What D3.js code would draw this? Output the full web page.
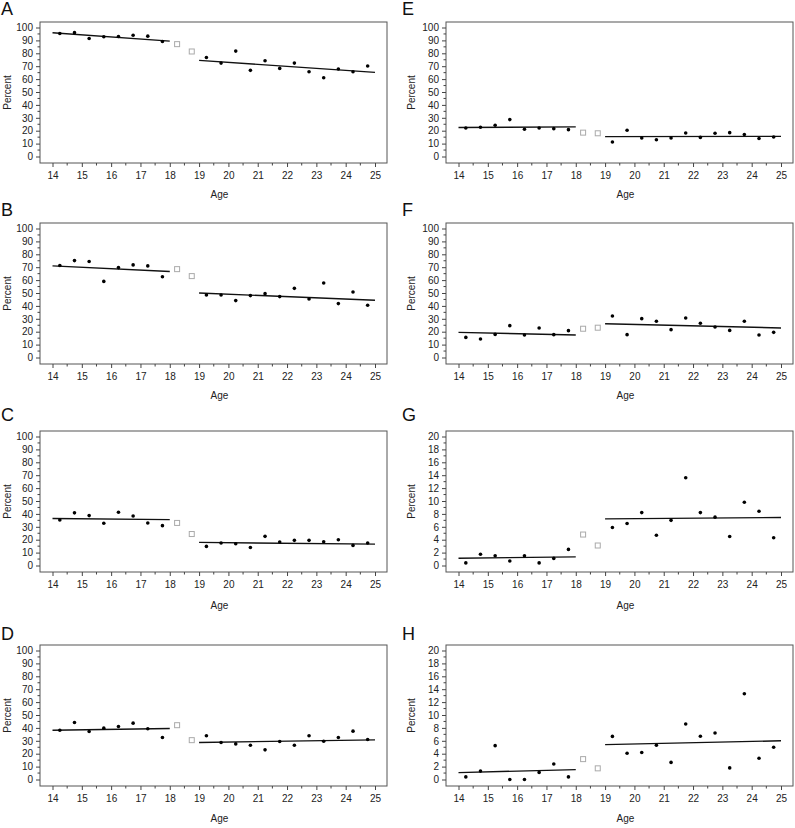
<!DOCTYPE html>
<html>
<head>
<meta charset="utf-8">
<script src="https://cdn.jsdelivr.net/npm/d3@7/dist/d3.min.js"></script>
<style>
  body { margin: 0; background: #fff; }
  svg { display: block; font-family: "Liberation Sans", Arial, sans-serif; }
</style>
</head>
<body>
<svg id="chart" width="795" height="828"></svg>
<script>
// ---------- data ----------
const ages = [14.25, 14.75, 15.25, 15.75, 16.25, 16.75, 17.25, 17.75,
              18.25, 18.75,
              19.25, 19.75, 20.25, 20.75, 21.25, 21.75, 22.25, 22.75, 23.25, 23.75, 24.25, 24.75];
const gapAges = [18.25, 18.75];
const xTicks = [14, 15, 16, 17, 18, 19, 20, 21, 22, 23, 24, 25];
const yTicks100 = [0, 10, 20, 30, 40, 50, 60, 70, 80, 90, 100];
const yTicks20 = [0, 2, 4, 6, 8, 10, 12, 14, 16, 18, 20];
const fitXEarly = [14, 18];
const fitXLate = [19, 25];

const panelNames = ["A", "B", "C", "D", "E", "F", "G", "H"];
const yMaxes = [100, 100, 100, 100, 100, 100, 20, 20];

const valuesA = [95.4, 96, 91.5, 92.8, 93, 94, 93.3, 89.2, 87.1, 81.4,
                 76.8, 72.4, 81.7, 66.8, 74.2, 68.3, 72.4, 65.7, 61.1, 67.8, 65.7, 70.1];
const valuesB = [71.3, 75.1, 74.4, 59, 69.7, 71.8, 71, 62.6, 68.5, 63.1,
                 48.5, 48.5, 44.1, 48, 49.5, 47.2, 53.6, 45.4, 57.7, 41.8, 50.8, 40.5];
const valuesC = [35.3, 40.8, 38.7, 32.7, 41.3, 38.4, 33, 30.9, 33, 24.4,
                 14.8, 17.4, 16.9, 14, 22.6, 18.2, 19.5, 19.5, 18.4, 20, 15.6, 17.4];
const valuesD = [38.2, 44.2, 37.2, 39.8, 41.1, 43.7, 39.3, 32.6, 42.1, 30.5,
                 33.9, 28.7, 27.6, 26.6, 23, 29.5, 26.6, 33.9, 29.7, 32.6, 37.5, 31];
const valuesE = [22.1, 22.7, 24.2, 28.6, 21.1, 22.1, 21.6, 20.8, 18.5, 18,
                 11.2, 20.3, 14.3, 13, 14.3, 18.2, 14.8, 18, 18.5, 17, 14, 15.1];
const valuesF = [15.6, 14.3, 17.9, 24.7, 17.4, 22.9, 17.7, 20.8, 22.3, 23.1,
                 32.2, 17.7, 30.1, 28.1, 21.6, 30.6, 26.5, 23.6, 21, 28.1, 17.4, 19.5];
const valuesG = [0.4, 1.74, 1.5, 0.7, 1.5, 0.4, 1.1, 2.5, 4.8, 3.1,
                 5.9, 6.5, 8.2, 4.7, 7.0, 13.6, 8.2, 7.5, 4.5, 9.8, 8.4, 4.3];
const valuesH = [0.4, 1.3, 5.25, 0, 0, 1.1, 2.4, 0.4, 3.16, 1.73,
                 6.68, 4.08, 4.18, 5.3, 2.65, 8.6, 6.7, 7.2, 1.8, 13.3, 3.3, 5.0];

const fitEarly = [[95.9, 89.4], [71, 66.7], [36.4, 35.6], [38.2, 39.5],
                  [22.5, 23], [19.5, 17.4], [1.13, 1.33], [1.07, 1.53]];
const fitLate = [[74.5, 65.2], [50, 44.4], [17.9, 16.6], [28.7, 30.7],
                 [15.4, 15.6], [26.2, 22.9], [7.23, 7.44], [5.4, 6.0]];

const allValues = [valuesA, valuesB, valuesC, valuesD, valuesE, valuesF, valuesG, valuesH];

// ---------- layout ----------
const svg = d3.select("#chart");
const colLeft = [40, 446];
const frameW = 347;
const rowTop = [22, 223, 431, 645];
const frameH = 141;
const labelBase = [15, 216, 421, 640];
const titleOffset = [35, 35, 37, 36];

panelNames.forEach((name, i) => {
  const col = Math.floor(i / 4);
  const row = i % 4;
  const x0 = colLeft[col], y0 = rowTop[row];
  const g = svg.append("g").attr("transform", `translate(${x0},${y0})`);

  const x = d3.scaleLinear().domain([14, 25]).range([12.5, frameW - 12]);
  const y = d3.scaleLinear().domain([0, yMaxes[i]]).range([frameH - 6.5, 5.5]);
  const yt = yMaxes[i] === 100 ? yTicks100 : yTicks20;
  const minorStep = yMaxes[i] === 100 ? 5 : 1;

  // panel letter
  svg.append("text")
    .attr("x", col === 0 ? 1 : 402)
    .attr("y", labelBase[row])
    .attr("font-size", 18)
    .attr("fill", "#111")
    .text(name);

  // frame
  g.append("rect").attr("x", 0).attr("y", 0).attr("width", frameW).attr("height", frameH)
    .attr("fill", "none").attr("stroke", "#555").attr("stroke-width", 1);

  // x axis
  const xAxis = d3.axisBottom(x).tickValues(xTicks).tickSize(4).tickPadding(5)
    .tickFormat(d3.format("d"));
  const xa = g.append("g").attr("transform", `translate(0,${frameH})`).call(xAxis);
  xa.select(".domain").remove();
  const xMinor = xTicks.slice(0, -1).map(v => v + 0.5);
  xa.selectAll(".minor").data(xMinor).enter().append("line")
    .attr("x1", d => x(d)).attr("x2", d => x(d)).attr("y1", 0).attr("y2", 2.5)
    .attr("stroke", "#444");

  // y axis
  const yAxis = d3.axisLeft(y).tickValues(yt).tickSize(4).tickPadding(3);
  const ya = g.append("g").call(yAxis);
  ya.select(".domain").remove();
  const yMinor = yt.slice(0, -1).map(v => v + minorStep);
  ya.selectAll(".minor").data(yMinor).enter().append("line")
    .attr("x1", 0).attr("x2", -2.5).attr("y1", d => y(d)).attr("y2", d => y(d))
    .attr("stroke", "#444");

  [xa, ya].forEach(a => {
    a.selectAll("text").attr("font-size", 10).attr("fill", "#222")
      .attr("font-family", "Liberation Sans, Arial, sans-serif");
    a.selectAll(".tick line").attr("stroke", "#444");
  });

  // axis titles
  g.append("text").attr("x", frameW / 2 + 6).attr("y", frameH + titleOffset[row])
    .attr("text-anchor", "middle").attr("font-size", 10).attr("fill", "#222").text("Age");
  g.append("text")
    .attr("transform", `translate(${col === 0 ? -29 : -31},${frameH / 2}) rotate(-90)`)
    .attr("text-anchor", "middle").attr("font-size", 10).attr("fill", "#222").text("Percent");

  // fit lines
  const line = d3.line().x(d => x(d[0])).y(d => y(d[1]));
  [[fitXEarly, fitEarly[i]], [fitXLate, fitLate[i]]].forEach(([xs, ys]) => {
    g.append("path").datum(xs.map((v, k) => [v, ys[k]]))
      .attr("d", line).attr("fill", "none").attr("stroke", "#111").attr("stroke-width", 1.4);
  });

  // points
  const pts = ages.map((a, k) => ({ age: a, v: allValues[i][k] }));
  g.selectAll("circle.pt").data(pts.filter(p => !gapAges.includes(p.age))).enter()
    .append("circle").attr("class", "pt")
    .attr("cx", d => x(d.age)).attr("cy", d => y(d.v)).attr("r", 1.8).attr("fill", "#000");
  g.selectAll("rect.sq").data(pts.filter(p => gapAges.includes(p.age))).enter()
    .append("rect").attr("class", "sq")
    .attr("x", d => x(d.age) - 2.5).attr("y", d => y(d.v) - 2.5)
    .attr("width", 5).attr("height", 5)
    .attr("fill", "none").attr("stroke", "#aaa").attr("stroke-width", 1);
});
</script>
</body>
</html>
